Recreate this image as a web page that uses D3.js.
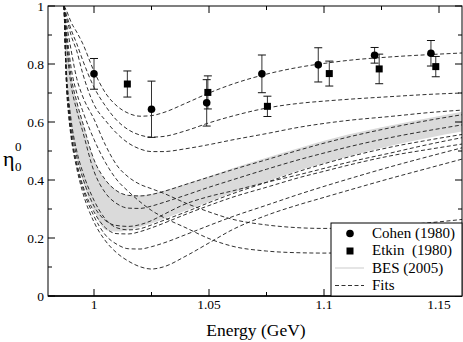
<!DOCTYPE html>
<html>
<head>
<meta charset="utf-8">
<script src="https://cdn.jsdelivr.net/npm/d3@7"></script>
<style>
body { margin: 0; background: #fff; }
</style>
</head>
<body>
<script>

// energy grid the fit curves are sampled on (GeV)
var energy = [0.987, 0.988, 0.989, 0.99, 0.9925, 0.995, 1.0, 1.005, 1.01, 1.015, 1.02, 1.025, 1.03, 1.04, 1.05, 1.06, 1.075, 1.09, 1.1, 1.11, 1.13, 1.145, 1.16]

// dashed fits
var fitA  = [1, 0.985, 0.965, 0.945, 0.91, 0.872, 0.775, 0.70, 0.655, 0.63, 0.62, 0.622, 0.632, 0.665, 0.70, 0.73, 0.765, 0.79, 0.802, 0.812, 0.825, 0.832, 0.838]
var fitB  = [1, 0.97, 0.945, 0.92, 0.87, 0.815, 0.72, 0.655, 0.605, 0.573, 0.555, 0.548, 0.55, 0.57, 0.597, 0.62, 0.648, 0.665, 0.672, 0.678, 0.688, 0.695, 0.70]
var fitC  = [1, 0.96, 0.93, 0.90, 0.845, 0.77, 0.66, 0.605, 0.56, 0.527, 0.507, 0.498, 0.498, 0.508, 0.522, 0.538, 0.56, 0.583, 0.595, 0.605, 0.62, 0.632, 0.641]
var fitD1 = [1, 0.92, 0.85, 0.79, 0.70, 0.64, 0.54, 0.46, 0.40, 0.36, 0.325, 0.295, 0.272, 0.235, 0.198, 0.172, 0.155, 0.149, 0.148, 0.149, 0.152, 0.156, 0.16]
var fitD2 = [1, 0.94, 0.895, 0.85, 0.75, 0.69, 0.61, 0.52, 0.45, 0.41, 0.385, 0.37, 0.355, 0.32, 0.29, 0.265, 0.245, 0.235, 0.233, 0.235, 0.243, 0.252, 0.264]
var fitF1 = [1, 0.9, 0.82, 0.76, 0.67, 0.60, 0.47, 0.40, 0.362, 0.347, 0.345, 0.35, 0.36, 0.385, 0.41, 0.435, 0.47, 0.505, 0.527, 0.547, 0.582, 0.605, 0.625]
var fitF2 = [1, 0.88, 0.79, 0.73, 0.64, 0.57, 0.43, 0.355, 0.318, 0.303, 0.302, 0.31, 0.322, 0.348, 0.375, 0.40, 0.437, 0.472, 0.493, 0.513, 0.548, 0.57, 0.59]
var fitF3 = [1, 0.78, 0.68, 0.61, 0.50, 0.43, 0.33, 0.265, 0.235, 0.228, 0.232, 0.245, 0.26, 0.29, 0.322, 0.352, 0.392, 0.432, 0.456, 0.478, 0.515, 0.537, 0.557]
var fitF4 = [1, 0.76, 0.66, 0.59, 0.48, 0.41, 0.31, 0.26, 0.243, 0.24, 0.246, 0.26, 0.28, 0.318, 0.343, 0.362, 0.392, 0.42, 0.44, 0.46, 0.495, 0.522, 0.546]
var fitF5 = [1, 0.75, 0.65, 0.57, 0.46, 0.385, 0.29, 0.235, 0.215, 0.214, 0.222, 0.235, 0.25, 0.282, 0.312, 0.34, 0.375, 0.41, 0.43, 0.45, 0.485, 0.505, 0.524]
var fitE1 = [1, 0.74, 0.63, 0.56, 0.45, 0.375, 0.275, 0.21, 0.178, 0.163, 0.162, 0.17, 0.182, 0.212, 0.243, 0.273, 0.313, 0.353, 0.378, 0.402, 0.448, 0.48, 0.511]
var fitE2 = [1, 0.73, 0.62, 0.55, 0.44, 0.36, 0.255, 0.19, 0.148, 0.12, 0.101, 0.093, 0.1, 0.138, 0.183, 0.228, 0.278, 0.317, 0.34, 0.363, 0.408, 0.44, 0.472]
var fits = [fitA, fitB, fitC, fitD1, fitD2, fitF1, fitF2, fitF3, fitF4, fitF5, fitE1, fitE2]

// BES (2005) band
var besHigh = [1, 0.9, 0.82, 0.76, 0.67, 0.60, 0.47, 0.40, 0.362, 0.348, 0.347, 0.352, 0.362, 0.387, 0.413, 0.44, 0.477, 0.512, 0.535, 0.556, 0.59, 0.613, 0.635]
var besLow  = [1, 0.76, 0.66, 0.59, 0.48, 0.40, 0.295, 0.228, 0.222, 0.228, 0.238, 0.25, 0.265, 0.295, 0.325, 0.355, 0.395, 0.435, 0.458, 0.48, 0.52, 0.545, 0.567]

// data points
var cohenE   = [1.0, 1.025, 1.049, 1.073, 1.0975, 1.122, 1.1465]
var cohenEta = [0.766, 0.644, 0.666, 0.766, 0.797, 0.830, 0.837]
var cohenErr = [0.053, 0.097, 0.080, 0.065, 0.059, 0.027, 0.044]

var etkinE   = [1.0145, 1.0495, 1.0754, 1.1023, 1.124, 1.1486]
var etkinEta = [0.731, 0.702, 0.654, 0.767, 0.783, 0.791]
var etkinErr = [0.045, 0.057, 0.035, 0.043, 0.051, 0.035]

var xTicks = [1, 1.05, 1.1, 1.15]
var xMinor = [1.025, 1.075, 1.125]
var yTicks = [0, 0.2, 0.4, 0.6, 0.8, 1]
var yMinor = [0.1, 0.3, 0.5, 0.7, 0.9]
var legendLabels = ["Cohen (1980)", "Etkin\u00a0\u00a0(1980)", "BES (2005)", "Fits"]

var svgWidth = 463
var svgHeight = 342
var plotL = 48, plotR = 462, plotT = 6, plotB = 296
var serif = "'Liberation Serif', 'Times New Roman', Times, 'DejaVu Serif', serif"

var x = d3.scaleLinear().domain([0.98, 1.16]).range([plotL, plotR])
var y = d3.scaleLinear().domain([0, 1]).range([plotB, plotT])

var svg = d3.select("body").append("svg")
            .attr("width", svgWidth)
            .attr("height", svgHeight)
            .attr("font-family", serif)

svg.append("clipPath").attr("id", "plotclip")
   .append("rect")
   .attr("x", plotL).attr("y", plotT)
   .attr("width", plotR - plotL).attr("height", plotB - plotT)

var plot = svg.append("g").attr("clip-path", "url(#plotclip)")

// band
var area = d3.area()
             .x(function(d, i) { return x(energy[i]) })
             .y0(function(d, i) { return y(besLow[i]) })
             .y1(function(d, i) { return y(besHigh[i]) })
             .curve(d3.curveMonotoneX)

plot.append("path")
    .datum(besHigh)
    .attr("d", area)
    .style("fill", "#dadada")
    .style("stroke", "none")

// fits
var line = d3.line()
             .x(function(d, i) { return x(energy[i]) })
             .y(function(d) { return y(d) })
             .curve(d3.curveMonotoneX)

plot.selectAll(".fit")
    .data(fits)
    .enter().append("path")
    .attr("class", "fit")
    .attr("d", line)
    .style("fill", "none")
    .style("stroke", "#1a1a1a")
    .style("stroke-width", 0.9)
    .style("stroke-dasharray", "4,2.5")

// error bars
function errorBars(es, vals, errs) {
    var g = plot.append("g")
    es.forEach(function(e, i) {
        var cx = x(e)
        var hi = y(vals[i] + errs[i]), lo = y(vals[i] - errs[i])
        g.append("line").attr("x1", cx).attr("x2", cx).attr("y1", hi).attr("y2", lo)
         .style("stroke", "#333").style("stroke-width", 1)
        g.append("line").attr("x1", cx - 4).attr("x2", cx + 4).attr("y1", hi).attr("y2", hi)
         .style("stroke", "#111").style("stroke-width", 1)
        g.append("line").attr("x1", cx - 4).attr("x2", cx + 4).attr("y1", lo).attr("y2", lo)
         .style("stroke", "#111").style("stroke-width", 1)
    })
}
errorBars(cohenE, cohenEta, cohenErr)
errorBars(etkinE, etkinEta, etkinErr)

plot.selectAll(".cohen")
    .data(cohenE)
    .enter().append("circle")
    .attr("cx", function(d) { return x(d) })
    .attr("cy", function(d, i) { return y(cohenEta[i]) })
    .attr("r", 3.8)
    .style("fill", "#000")

plot.selectAll(".etkin")
    .data(etkinE)
    .enter().append("rect")
    .attr("x", function(d) { return x(d) - 3.5 })
    .attr("y", function(d, i) { return y(etkinEta[i]) - 3.5 })
    .attr("width", 7)
    .attr("height", 7)
    .style("fill", "#000")

// frame
svg.append("rect")
   .attr("x", plotL).attr("y", plotT)
   .attr("width", plotR - plotL).attr("height", plotB - plotT)
   .style("fill", "none")
   .style("stroke", "#000")
   .style("stroke-width", 1)
svg.append("line")
   .attr("x1", plotL).attr("x2", plotR).attr("y1", plotB).attr("y2", plotB)
   .style("stroke", "#000").style("stroke-width", 1.5)

// ticks on all four sides, pointing in
var ticks = svg.append("g").style("stroke", "#000").style("stroke-width", 1)
xTicks.concat(xMinor).forEach(function(t) {
    var len = xTicks.indexOf(t) >= 0 ? 7 : 4
    ticks.append("line").attr("x1", x(t)).attr("x2", x(t)).attr("y1", plotB).attr("y2", plotB - len)
    ticks.append("line").attr("x1", x(t)).attr("x2", x(t)).attr("y1", plotT).attr("y2", plotT + len)
})
yTicks.concat(yMinor).forEach(function(t) {
    var len = yTicks.indexOf(t) >= 0 ? 7 : 4
    ticks.append("line").attr("x1", plotL).attr("x2", plotL + len).attr("y1", y(t)).attr("y2", y(t))
    ticks.append("line").attr("x1", plotR).attr("x2", plotR - len).attr("y1", y(t)).attr("y2", y(t))
})

svg.selectAll(".xlab")
   .data(xTicks)
   .enter().append("text")
   .attr("x", function(d) { return x(d) })
   .attr("y", 309)
   .attr("text-anchor", "middle")
   .attr("font-size", 13.5)
   .text(function(d) { return d })

svg.selectAll(".ylab")
   .data(yTicks)
   .enter().append("text")
   .attr("x", 44)
   .attr("y", function(d) { return y(d) + 4.5 })
   .attr("text-anchor", "end")
   .attr("font-size", 13.5)
   .text(function(d) { return d })

svg.append("text")
   .attr("x", (plotL + plotR) / 2 + 1)
   .attr("y", 336)
   .attr("text-anchor", "middle")
   .attr("font-size", 17.5)
   .text("Energy (GeV)")

var ylabel = svg.append("text").attr("x", 3).attr("y", 166)
ylabel.append("tspan").attr("font-size", 22).text("\u03b7")
ylabel.append("tspan").attr("x", 15).attr("y", 151).attr("font-size", 13).text("0")
ylabel.append("tspan").attr("x", 15).attr("y", 171).attr("font-size", 13).text("0")

// legend
var lg = svg.append("g")
lg.append("rect")
  .attr("x", 331).attr("y", 223)
  .attr("width", plotR - 331).attr("height", plotB - 223)
  .style("fill", "#fff")
  .style("stroke", "#000")
  .style("stroke-width", 1)

var rowY = [237.5, 255, 272.5, 290]
lg.append("circle").attr("cx", 350).attr("cy", rowY[0] - 4).attr("r", 3.8).style("fill", "#000")
lg.append("rect").attr("x", 346.5).attr("y", rowY[1] - 7.5).attr("width", 7).attr("height", 7).style("fill", "#000")
lg.append("line").attr("x1", 335).attr("x2", 364).attr("y1", rowY[2] - 4.5).attr("y2", rowY[2] - 4.5)
  .style("stroke", "#dcdcdc").style("stroke-width", 1.5)
lg.append("line").attr("x1", 335).attr("x2", 364).attr("y1", rowY[3] - 4.5).attr("y2", rowY[3] - 4.5)
  .style("stroke", "#1a1a1a").style("stroke-width", 0.9).style("stroke-dasharray", "4,2.5")

lg.selectAll(".legtext")
  .data(legendLabels)
  .enter().append("text")
  .attr("x", 372)
  .attr("y", function(d, i) { return rowY[i] })
  .attr("font-size", 15)
  .text(function(d) { return d })

</script>
</body>
</html>
